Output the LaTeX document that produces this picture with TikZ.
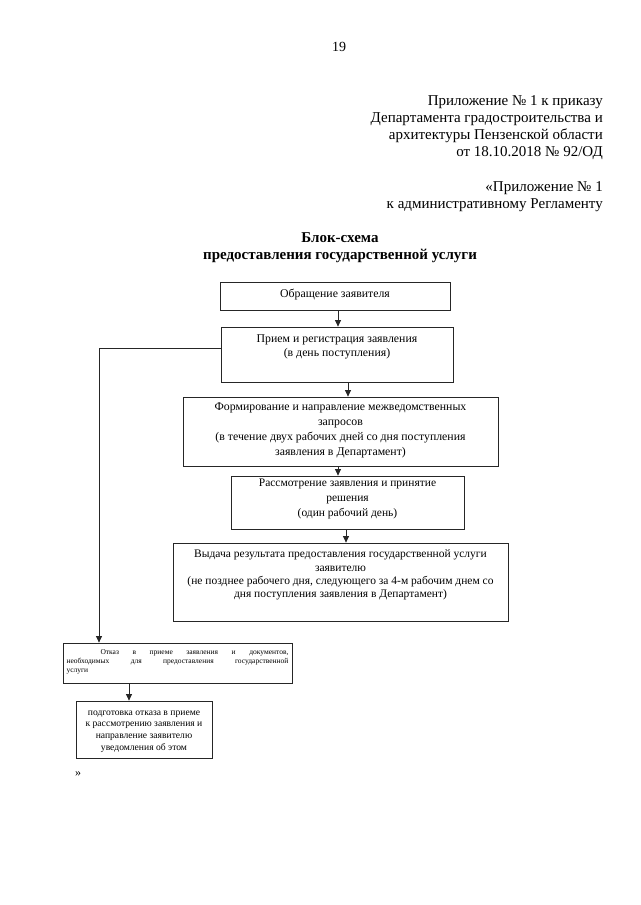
\documentclass[tikz,border=0pt]{standalone}
\usepackage{fontspec}
\setmainfont{Liberation Serif}
\usetikzlibrary{arrows.meta,calc}
\begin{document}
\begin{tikzpicture}[x=1pt,y=-1pt,
  box/.style={draw=black!85, line width=0.8pt, inner sep=0pt},
  txt/.style={inner sep=0pt, align=center, font=\fontsize{11.8}{15}\selectfont},
  txtb/.style={inner sep=0pt, align=center, font=\fontsize{11.5}{15}\selectfont},
  arr/.style={draw=black!85, line width=0.8pt, -{Triangle[length=6.5pt,width=6pt]}},
  hdr/.style={inner sep=0pt, font=\fontsize{15}{17}\selectfont, align=right, anchor=north east}]
\useasboundingbox (0,0) rectangle (640,905);

% page number and header
\node[inner sep=0pt, font=\fontsize{14}{17}\selectfont] (pg) at (339,46.5) {19};
\node[hdr] (h1) at (603,95.5) {Приложение № 1 к приказу\\Департамента градостроительства и\\архитектуры Пензенской области\\от 18.10.2018 № 92/ОД};
\node[hdr] (h2) at (603,181.5) {«Приложение № 1\\к административному Регламенту};
\node[inner sep=0pt, align=center, font=\fontsize{15}{17}\selectfont\bfseries] (title) at (340,247.5) {Блок-схема\\предоставления государственной услуги};

% boxes
\node[box, minimum width=230pt, minimum height=28pt] (b1) at (335,296) {};
\node[box, minimum width=232pt, minimum height=55pt] (b2) at (337,354.5) {};
\node[box, minimum width=315pt, minimum height=69pt] (b3) at (340.5,431.5) {};
\node[box, minimum width=233pt, minimum height=53pt] (b4) at (347.5,502.5) {};
\node[box, minimum width=335pt, minimum height=78pt] (b5) at (340.5,582) {};
\node[box, minimum width=229pt, minimum height=40pt] (b6) at (177.5,663) {};
\node[box, minimum width=136pt, minimum height=57pt] (b7) at (144,729.5) {};

% texts
\node[txt] (t1) at (335,295) {Обращение заявителя};
\node[txt, font=\fontsize{11.8}{14}\selectfont] (t2) at (337,346.5) {Прием и регистрация заявления\\(в день поступления)};
\node[txt] (t3) at (340.5,430.5) {Формирование и направление межведомственных\\запросов\\(в течение двух рабочих дней со дня поступления\\заявления в Департамент)};
\node[txtb] (t4) at (347.5,498.5) {Рассмотрение заявления и принятие\\решения\\(один рабочий день)};
\node[txtb, font=\fontsize{11.5}{13.3}\selectfont] (t5) at (340.5,575) {Выдача результата предоставления государственной услуги\\заявителю\\(не позднее рабочего дня, следующего за 4-м рабочим днем со\\дня поступления заявления в Департамент)};
\node[inner sep=0pt] (t6) at (177.5,662) {\parbox{222pt}{\fontsize{7.5}{9}\selectfont\hspace*{34pt}Отказ в приеме заявления и документов,\linebreak необходимых для предоставления государственной\linebreak услуги}};
\node[inner sep=0pt, align=center, font=\fontsize{9.6}{11.8}\selectfont] (t7) at (144,731.5) {подготовка отказа в приеме\\к рассмотрению заявления и\\направление заявителю\\уведомления об этом};
\node[inner sep=0pt, font=\fontsize{12}{14}\selectfont] (q) at (78,773.5) {»};

% connectors
\draw[arr] ($(b1.south)+(3,0)$) coordinate (a1) -- (a1 |- b2.north);
\draw[arr] ($(b2.south)+(11,0)$) coordinate (a2) -- (a2 |- b3.north);
\draw[arr] ($(b3.south)+(-2.5,0)$) coordinate (a3) -- (a3 |- b4.north);
\draw[arr] ($(b4.south)+(-1.5,0)$) coordinate (a4) -- (a4 |- b5.north);
\draw[arr] ($(b6.south)+(-48.5,0)$) coordinate (a6) -- (a6 |- b7.north);
\coordinate (lx) at (99,0);
\draw[arr] ($(b2.west)+(0,-6.5)$) -| (lx |- b6.north);
\end{tikzpicture}
\end{document}
